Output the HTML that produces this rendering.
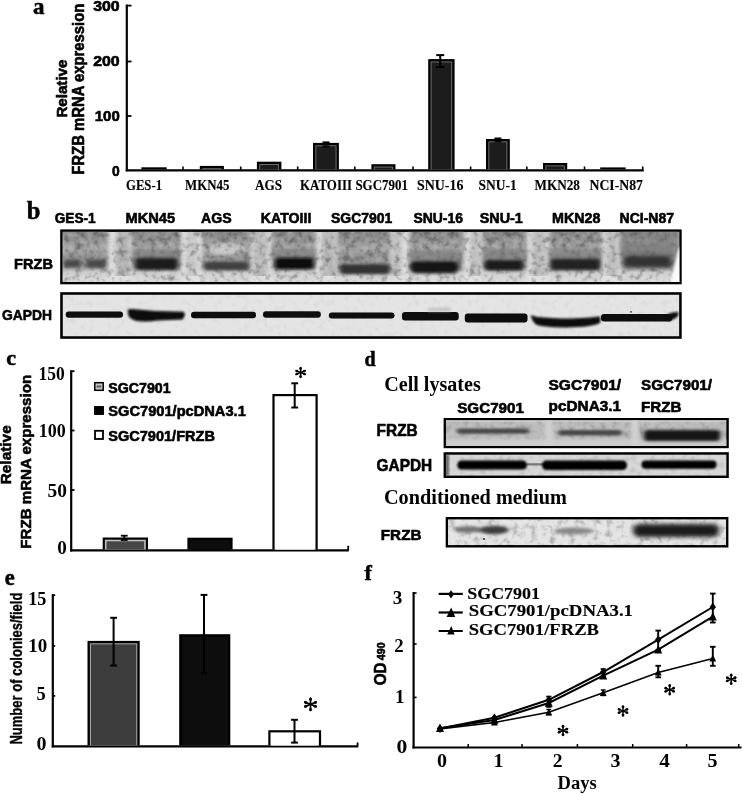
<!DOCTYPE html><html><head><meta charset="utf-8"><style>html,body{margin:0;padding:0;background:#fff;}svg{display:block;}</style></head><body>
<svg width="742" height="794" viewBox="0 0 742 794">
<defs>
<filter id="noise" x="0" y="0" width="100%" height="100%"><feTurbulence type="fractalNoise" baseFrequency="0.16" numOctaves="3" seed="3"/><feColorMatrix type="matrix" values="0 0 0 0 0  0 0 0 0 0  0 0 0 0 0  0 0 0 1.8 -0.9" /></filter>
<filter id="noiseL" x="0" y="0" width="100%" height="100%"><feTurbulence type="fractalNoise" baseFrequency="0.16" numOctaves="3" seed="3"/><feColorMatrix type="matrix" values="0 0 0 0 1  0 0 0 0 1  0 0 0 0 1  0 0 0 -1.8 0.9" /></filter>
<filter id="noise2" x="0" y="0" width="100%" height="100%"><feTurbulence type="fractalNoise" baseFrequency="0.08 0.25" numOctaves="2" seed="7"/><feColorMatrix type="matrix" values="0 0 0 0 0  0 0 0 0 0  0 0 0 0 0  0 0 0 -1.4 0.85" /></filter>
<filter id="b1" x="-20%" y="-100%" width="140%" height="300%"><feGaussianBlur stdDeviation="2.2 1.6"/></filter>
<filter id="b2" x="-20%" y="-100%" width="140%" height="300%"><feGaussianBlur stdDeviation="1.2 0.9"/></filter>
<filter id="b3" x="-20%" y="-100%" width="140%" height="300%"><feGaussianBlur stdDeviation="3 3"/></filter>
<filter id="soft"><feGaussianBlur stdDeviation="0.35"/></filter>
<filter id="fsl" x="-30%" y="-10%" width="160%" height="120%"><feGaussianBlur stdDeviation="2.2 0.5"/></filter>
<filter id="fsg" x="-10%" y="-50%" width="120%" height="200%"><feGaussianBlur stdDeviation="0.8"/></filter>
<filter id="f2_1p6" x="-30%" y="-100%" width="160%" height="300%"><feGaussianBlur stdDeviation="2 1.6"/></filter><filter id="f2_1p8" x="-30%" y="-100%" width="160%" height="300%"><feGaussianBlur stdDeviation="2 1.8"/></filter><filter id="f2_1p7" x="-30%" y="-100%" width="160%" height="300%"><feGaussianBlur stdDeviation="2 1.7"/></filter><filter id="f2p2_1p9" x="-30%" y="-100%" width="160%" height="300%"><feGaussianBlur stdDeviation="2.2 1.9"/></filter><filter id="f0p7_0p6" x="-30%" y="-100%" width="160%" height="300%"><feGaussianBlur stdDeviation="0.7 0.6"/></filter><filter id="f2_1p2" x="-30%" y="-100%" width="160%" height="300%"><feGaussianBlur stdDeviation="2 1.2"/></filter><filter id="f2_1p5" x="-30%" y="-100%" width="160%" height="300%"><feGaussianBlur stdDeviation="2 1.5"/></filter><filter id="f1_0p6" x="-30%" y="-100%" width="160%" height="300%"><feGaussianBlur stdDeviation="1 0.6"/></filter><filter id="f0p9_0p8" x="-30%" y="-100%" width="160%" height="300%"><feGaussianBlur stdDeviation="0.9 0.8"/></filter><filter id="f2p4_2" x="-30%" y="-100%" width="160%" height="300%"><feGaussianBlur stdDeviation="2.4 2"/></filter>
</defs>
<rect width="742" height="794" fill="#fff"/>
<g filter="url(#soft)">
<text x="33.0" y="13.6" font-family='"Liberation Serif", serif' font-weight="bold" font-size="23" text-anchor="start" fill="#000"  stroke="#000" stroke-width="0.5" stroke-linejoin="round">a</text>
<text transform="translate(66.6,88.6) rotate(-90)" x="0" y="0" font-family='"Liberation Sans", sans-serif' font-weight="bold" font-size="15.5" text-anchor="middle" fill="#000" textLength="58" lengthAdjust="spacingAndGlyphs"  stroke="#000" stroke-width="0.6" stroke-linejoin="round">Relative</text>
<text transform="translate(83.5,89.2) rotate(-90)" x="0" y="0" font-family='"Liberation Sans", sans-serif' font-weight="bold" font-size="16" text-anchor="middle" fill="#000" textLength="171" lengthAdjust="spacingAndGlyphs"  stroke="#000" stroke-width="0.6" stroke-linejoin="round">FRZB mRNA expression</text>
<text x="93.2" y="10.6" font-family='"Liberation Sans", sans-serif' font-weight="bold" font-size="14" text-anchor="start" fill="#000" textLength="26.5" lengthAdjust="spacingAndGlyphs"  stroke="#000" stroke-width="0.6" stroke-linejoin="round">300</text>
<text x="93.2" y="66.0" font-family='"Liberation Sans", sans-serif' font-weight="bold" font-size="14" text-anchor="start" fill="#000" textLength="26.5" lengthAdjust="spacingAndGlyphs"  stroke="#000" stroke-width="0.6" stroke-linejoin="round">200</text>
<text x="94.8" y="121.0" font-family='"Liberation Sans", sans-serif' font-weight="bold" font-size="14" text-anchor="start" fill="#000" textLength="24.9" lengthAdjust="spacingAndGlyphs"  stroke="#000" stroke-width="0.6" stroke-linejoin="round">100</text>
<text x="112.0" y="176.2" font-family='"Liberation Sans", sans-serif' font-weight="bold" font-size="14" text-anchor="start" fill="#000" textLength="7.7" lengthAdjust="spacingAndGlyphs"  stroke="#000" stroke-width="0.6" stroke-linejoin="round">0</text>
<line x1="126.8" y1="4.6" x2="126.8" y2="171.3" stroke="#000" stroke-width="2.2" stroke-linecap="butt"/>
<line x1="126" y1="5.6" x2="131.5" y2="5.6" stroke="#000" stroke-width="1.8" stroke-linecap="butt"/>
<line x1="126" y1="61.5" x2="131.5" y2="61.5" stroke="#000" stroke-width="1.8" stroke-linecap="butt"/>
<line x1="126" y1="116.0" x2="131.5" y2="116.0" stroke="#000" stroke-width="1.8" stroke-linecap="butt"/>
<line x1="125.8" y1="170.3" x2="643.8" y2="170.3" stroke="#000" stroke-width="2.2" stroke-linecap="butt"/>
<line x1="183" y1="166.5" x2="183" y2="170" stroke="#000" stroke-width="1.6" stroke-linecap="butt"/>
<line x1="240.7" y1="166.5" x2="240.7" y2="170" stroke="#000" stroke-width="1.6" stroke-linecap="butt"/>
<line x1="297.7" y1="166.5" x2="297.7" y2="170" stroke="#000" stroke-width="1.6" stroke-linecap="butt"/>
<line x1="354.8" y1="166.5" x2="354.8" y2="170" stroke="#000" stroke-width="1.6" stroke-linecap="butt"/>
<line x1="413" y1="166.5" x2="413" y2="170" stroke="#000" stroke-width="1.6" stroke-linecap="butt"/>
<line x1="470.6" y1="166.5" x2="470.6" y2="170" stroke="#000" stroke-width="1.6" stroke-linecap="butt"/>
<line x1="526.8" y1="166.5" x2="526.8" y2="170" stroke="#000" stroke-width="1.6" stroke-linecap="butt"/>
<line x1="584.5" y1="166.5" x2="584.5" y2="170" stroke="#000" stroke-width="1.6" stroke-linecap="butt"/>
<line x1="642.7" y1="166.5" x2="642.7" y2="170" stroke="#000" stroke-width="1.6" stroke-linecap="butt"/>
<rect x="141.4" y="167.3" width="25.299999999999983" height="2.0999999999999943" fill="#000" stroke="none" stroke-width="0" />
<rect x="143.8" y="169.70000000000002" width="20.499999999999982" height="-0.3000000000000056" fill="#7a7a7a" stroke="none" stroke-width="0" />
<rect x="144.70000000000002" y="170.60000000000002" width="18.69999999999998" height="-1.2000000000000055" fill="#1b1b1b" stroke="none" stroke-width="0" />
<rect x="199.8" y="165.9" width="24.099999999999994" height="3.5" fill="#000" stroke="none" stroke-width="0" />
<rect x="202.20000000000002" y="168.3" width="19.299999999999994" height="1.1" fill="#7a7a7a" stroke="none" stroke-width="0" />
<rect x="203.10000000000002" y="169.20000000000002" width="17.499999999999993" height="0.20000000000000007" fill="#1b1b1b" stroke="none" stroke-width="0" />
<rect x="256.9" y="161.7" width="24.5" height="7.700000000000017" fill="#000" stroke="none" stroke-width="0" />
<rect x="259.29999999999995" y="164.1" width="19.7" height="5.300000000000017" fill="#7a7a7a" stroke="none" stroke-width="0" />
<rect x="260.19999999999993" y="165.0" width="17.9" height="4.400000000000016" fill="#1b1b1b" stroke="none" stroke-width="0" />
<rect x="313" y="142.9" width="25.899999999999977" height="26.5" fill="#000" stroke="none" stroke-width="0" />
<rect x="315.4" y="145.3" width="21.099999999999977" height="24.1" fill="#7a7a7a" stroke="none" stroke-width="0" />
<rect x="316.29999999999995" y="146.20000000000002" width="19.299999999999976" height="23.200000000000003" fill="#1b1b1b" stroke="none" stroke-width="0" />
<rect x="371.4" y="164.2" width="24.100000000000023" height="5.200000000000017" fill="#000" stroke="none" stroke-width="0" />
<rect x="373.79999999999995" y="166.6" width="19.300000000000022" height="2.800000000000017" fill="#7a7a7a" stroke="none" stroke-width="0" />
<rect x="374.69999999999993" y="167.5" width="17.50000000000002" height="1.9000000000000172" fill="#1b1b1b" stroke="none" stroke-width="0" />
<rect x="428.2" y="59.1" width="26.400000000000034" height="110.30000000000001" fill="#000" stroke="none" stroke-width="0" />
<rect x="430.59999999999997" y="61.5" width="21.600000000000033" height="107.9" fill="#7a7a7a" stroke="none" stroke-width="0" />
<rect x="431.49999999999994" y="62.4" width="19.800000000000033" height="107.0" fill="#1b1b1b" stroke="none" stroke-width="0" />
<rect x="486" y="139.0" width="23.80000000000001" height="30.400000000000006" fill="#000" stroke="none" stroke-width="0" />
<rect x="488.4" y="141.4" width="19.00000000000001" height="28.000000000000007" fill="#7a7a7a" stroke="none" stroke-width="0" />
<rect x="489.29999999999995" y="142.3" width="17.20000000000001" height="27.10000000000001" fill="#1b1b1b" stroke="none" stroke-width="0" />
<rect x="543" y="163.0" width="24.200000000000045" height="6.400000000000006" fill="#000" stroke="none" stroke-width="0" />
<rect x="545.4" y="165.4" width="19.400000000000045" height="4.000000000000005" fill="#7a7a7a" stroke="none" stroke-width="0" />
<rect x="546.3" y="166.3" width="17.600000000000044" height="3.1000000000000054" fill="#1b1b1b" stroke="none" stroke-width="0" />
<rect x="600.2" y="167.4" width="25.5" height="2.0" fill="#000" stroke="none" stroke-width="0" />
<rect x="602.6" y="169.8" width="20.7" height="-0.3999999999999999" fill="#7a7a7a" stroke="none" stroke-width="0" />
<rect x="603.5" y="170.70000000000002" width="18.9" height="-1.2999999999999998" fill="#1b1b1b" stroke="none" stroke-width="0" />
<line x1="440.2" y1="55.1" x2="440.2" y2="67.0" stroke="#000" stroke-width="2" stroke-linecap="butt"/>
<line x1="436.2" y1="55.1" x2="444.2" y2="55.1" stroke="#000" stroke-width="2" stroke-linecap="butt"/>
<line x1="436.2" y1="67.0" x2="444.2" y2="67.0" stroke="#000" stroke-width="2" stroke-linecap="butt"/>
<line x1="326" y1="142.3" x2="326" y2="146.5" stroke="#000" stroke-width="1.8" stroke-linecap="butt"/>
<line x1="322.5" y1="142.3" x2="329.5" y2="142.3" stroke="#000" stroke-width="1.8" stroke-linecap="butt"/>
<line x1="322.5" y1="146.5" x2="329.5" y2="146.5" stroke="#000" stroke-width="1.8" stroke-linecap="butt"/>
<line x1="497.9" y1="138.4" x2="497.9" y2="141.5" stroke="#000" stroke-width="1.8" stroke-linecap="butt"/>
<line x1="494.4" y1="138.4" x2="501.4" y2="138.4" stroke="#000" stroke-width="1.8" stroke-linecap="butt"/>
<line x1="494.4" y1="141.5" x2="501.4" y2="141.5" stroke="#000" stroke-width="1.8" stroke-linecap="butt"/>
<text x="126" y="189.5" font-family='"Liberation Serif", serif' font-weight="bold" font-size="14.5" text-anchor="start" fill="#000" textLength="36" lengthAdjust="spacingAndGlyphs"  stroke="#000" stroke-width="0.15" stroke-linejoin="round">GES-1</text>
<text x="185.1" y="189.5" font-family='"Liberation Serif", serif' font-weight="bold" font-size="14.5" text-anchor="start" fill="#000" textLength="44.3" lengthAdjust="spacingAndGlyphs"  stroke="#000" stroke-width="0.15" stroke-linejoin="round">MKN45</text>
<text x="255" y="189.5" font-family='"Liberation Serif", serif' font-weight="bold" font-size="14.5" text-anchor="start" fill="#000" textLength="27.1" lengthAdjust="spacingAndGlyphs"  stroke="#000" stroke-width="0.15" stroke-linejoin="round">AGS</text>
<text x="300" y="189.5" font-family='"Liberation Serif", serif' font-weight="bold" font-size="14.5" text-anchor="start" fill="#000" textLength="52" lengthAdjust="spacingAndGlyphs"  stroke="#000" stroke-width="0.15" stroke-linejoin="round">KATOIII</text>
<text x="355.4" y="189.5" font-family='"Liberation Serif", serif' font-weight="bold" font-size="14.5" text-anchor="start" fill="#000" textLength="52.7" lengthAdjust="spacingAndGlyphs"  stroke="#000" stroke-width="0.15" stroke-linejoin="round">SGC7901</text>
<text x="417.1" y="189.5" font-family='"Liberation Serif", serif' font-weight="bold" font-size="14.5" text-anchor="start" fill="#000" textLength="46.3" lengthAdjust="spacingAndGlyphs"  stroke="#000" stroke-width="0.15" stroke-linejoin="round">SNU-16</text>
<text x="478.6" y="189.5" font-family='"Liberation Serif", serif' font-weight="bold" font-size="14.5" text-anchor="start" fill="#000" textLength="38.1" lengthAdjust="spacingAndGlyphs"  stroke="#000" stroke-width="0.15" stroke-linejoin="round">SNU-1</text>
<text x="534.5" y="189.5" font-family='"Liberation Serif", serif' font-weight="bold" font-size="14.5" text-anchor="start" fill="#000" textLength="45.3" lengthAdjust="spacingAndGlyphs"  stroke="#000" stroke-width="0.15" stroke-linejoin="round">MKN28</text>
<text x="589.5" y="189.5" font-family='"Liberation Serif", serif' font-weight="bold" font-size="14.5" text-anchor="start" fill="#000" textLength="53.4" lengthAdjust="spacingAndGlyphs"  stroke="#000" stroke-width="0.15" stroke-linejoin="round">NCI-N87</text>
<text x="26.8" y="218.6" font-family='"Liberation Serif", serif' font-weight="bold" font-size="24.5" text-anchor="start" fill="#000"  stroke="#000" stroke-width="0.5" stroke-linejoin="round">b</text>
<text x="54.7" y="223.4" font-family='"Liberation Sans", sans-serif' font-weight="bold" font-size="15" text-anchor="start" fill="#000" textLength="41.0" lengthAdjust="spacingAndGlyphs"  stroke="#000" stroke-width="0.6" stroke-linejoin="round">GES-1</text>
<text x="125.5" y="223.4" font-family='"Liberation Sans", sans-serif' font-weight="bold" font-size="15" text-anchor="start" fill="#000" textLength="49.6" lengthAdjust="spacingAndGlyphs"  stroke="#000" stroke-width="0.6" stroke-linejoin="round">MKN45</text>
<text x="201" y="223.4" font-family='"Liberation Sans", sans-serif' font-weight="bold" font-size="15" text-anchor="start" fill="#000" textLength="30.7" lengthAdjust="spacingAndGlyphs"  stroke="#000" stroke-width="0.6" stroke-linejoin="round">AGS</text>
<text x="260.8" y="223.4" font-family='"Liberation Sans", sans-serif' font-weight="bold" font-size="15" text-anchor="start" fill="#000" textLength="50.6" lengthAdjust="spacingAndGlyphs"  stroke="#000" stroke-width="0.6" stroke-linejoin="round">KATOIII</text>
<text x="331" y="223.4" font-family='"Liberation Sans", sans-serif' font-weight="bold" font-size="15" text-anchor="start" fill="#000" textLength="61.3" lengthAdjust="spacingAndGlyphs"  stroke="#000" stroke-width="0.6" stroke-linejoin="round">SGC7901</text>
<text x="413.4" y="223.4" font-family='"Liberation Sans", sans-serif' font-weight="bold" font-size="15" text-anchor="start" fill="#000" textLength="49.6" lengthAdjust="spacingAndGlyphs"  stroke="#000" stroke-width="0.6" stroke-linejoin="round">SNU-16</text>
<text x="479.7" y="223.4" font-family='"Liberation Sans", sans-serif' font-weight="bold" font-size="15" text-anchor="start" fill="#000" textLength="43.1" lengthAdjust="spacingAndGlyphs"  stroke="#000" stroke-width="0.6" stroke-linejoin="round">SNU-1</text>
<text x="552" y="223.4" font-family='"Liberation Sans", sans-serif' font-weight="bold" font-size="15" text-anchor="start" fill="#000" textLength="48.5" lengthAdjust="spacingAndGlyphs"  stroke="#000" stroke-width="0.6" stroke-linejoin="round">MKN28</text>
<text x="619.5" y="223.4" font-family='"Liberation Sans", sans-serif' font-weight="bold" font-size="15" text-anchor="start" fill="#000" textLength="54.6" lengthAdjust="spacingAndGlyphs"  stroke="#000" stroke-width="0.6" stroke-linejoin="round">NCI-N87</text>
<text x="14.1" y="268.8" font-family='"Liberation Sans", sans-serif' font-weight="bold" font-size="15" text-anchor="start" fill="#000" textLength="38.8" lengthAdjust="spacingAndGlyphs"  stroke="#000" stroke-width="0.6" stroke-linejoin="round">FRZB</text>
<text x="1.9" y="320.4" font-family='"Liberation Sans", sans-serif' font-weight="bold" font-size="15" text-anchor="start" fill="#000" textLength="50" lengthAdjust="spacingAndGlyphs"  stroke="#000" stroke-width="0.6" stroke-linejoin="round">GAPDH</text>
<rect x="60.2" y="229.4" width="621.5" height="54.900000000000006" fill="#000" stroke="none" stroke-width="0" />
<svg x="62.5" y="231.70000000000002" width="616.9000000000001" height="50.29999999999998" viewBox="62.5 231.70000000000002 616.9000000000001 50.29999999999998" overflow="hidden">
<defs><linearGradient id="lgl" x1="0" y1="0" x2="0" y2="1"><stop offset="0" stop-color="#848484"/><stop offset="0.2" stop-color="#8e8e8e"/><stop offset="0.38" stop-color="#a2a2a2"/><stop offset="0.52" stop-color="#929292"/><stop offset="0.72" stop-color="#959595"/><stop offset="0.82" stop-color="#cacaca"/><stop offset="1" stop-color="#dadada"/></linearGradient></defs>
<rect x="62.5" y="231.70000000000002" width="616.9000000000001" height="50.29999999999998" fill="#dedede" stroke="none" stroke-width="0" />
<rect x="62" y="227.70000000000002" width="46" height="54.29999999999998" fill="url(#lgl)" filter="url(#fsl)"/>
<rect x="131" y="227.70000000000002" width="50" height="54.29999999999998" fill="url(#lgl)" filter="url(#fsl)"/>
<rect x="202" y="227.70000000000002" width="49" height="54.29999999999998" fill="url(#lgl)" filter="url(#fsl)"/>
<rect x="272" y="227.70000000000002" width="44" height="54.29999999999998" fill="url(#lgl)" filter="url(#fsl)"/>
<rect x="337" y="227.70000000000002" width="54" height="54.29999999999998" fill="url(#lgl)" filter="url(#fsl)"/>
<rect x="409" y="227.70000000000002" width="55" height="54.29999999999998" fill="url(#lgl)" filter="url(#fsl)"/>
<rect x="482" y="227.70000000000002" width="45" height="54.29999999999998" fill="url(#lgl)" filter="url(#fsl)"/>
<rect x="549" y="227.70000000000002" width="53" height="54.29999999999998" fill="url(#lgl)" filter="url(#fsl)"/>
<rect x="620" y="227.70000000000002" width="60" height="54.29999999999998" fill="url(#lgl)" filter="url(#fsl)"/>
<rect x="116" y="231.70000000000002" width="14" height="44.29999999999998" fill="#b0b0b0" filter="url(#fsl)"/>
<rect x="253" y="231.70000000000002" width="15" height="44.29999999999998" fill="#b8b8b8" filter="url(#fsl)"/>
<rect x="322" y="231.70000000000002" width="14" height="44.29999999999998" fill="#b4b4b4" filter="url(#fsl)"/>
<rect x="392" y="231.70000000000002" width="10" height="44.29999999999998" fill="#bcbcbc" filter="url(#fsl)"/>
<rect x="470" y="231.70000000000002" width="11" height="44.29999999999998" fill="#bdbdbd" filter="url(#fsl)"/>
<rect x="532" y="231.70000000000002" width="14" height="44.29999999999998" fill="#bababa" filter="url(#fsl)"/>
<rect x="606" y="231.70000000000002" width="12" height="44.29999999999998" fill="#bbbbbb" filter="url(#fsl)"/>
<rect x="186" y="231.70000000000002" width="12" height="44.29999999999998" fill="#c4c4c4" filter="url(#fsl)"/>
<ellipse cx="226" cy="249" rx="19" ry="6" fill="#c4c4c4" filter="url(#b1)"/>
<rect x="62.5" y="231.70000000000002" width="616.9000000000001" height="50.29999999999998" fill="#000" filter="url(#noise)" opacity="0.45"/>
<rect x="62.5" y="231.70000000000002" width="616.9000000000001" height="50.29999999999998" fill="#fff" filter="url(#noiseL)" opacity="0.3"/>
<rect x="133" y="249" width="47" height="12" fill="#7a7a7a" opacity="0.55" filter="url(#b1)"/>
<rect x="272" y="248" width="44" height="12" fill="#7a7a7a" opacity="0.55" filter="url(#b1)"/>
<rect x="408" y="250" width="53" height="12" fill="#7a7a7a" opacity="0.55" filter="url(#b1)"/>
<rect x="482" y="248" width="44" height="12" fill="#7a7a7a" opacity="0.55" filter="url(#b1)"/>
<rect x="548" y="248" width="54" height="12" fill="#7a7a7a" opacity="0.55" filter="url(#b1)"/>
<rect x="621" y="244" width="53" height="12" fill="#7a7a7a" opacity="0.55" filter="url(#b1)"/>
<rect x="64" y="259.6" width="17" height="8" rx="3" fill="#4a4a4a" opacity="1" filter="url(#f2_1p6)"/>
<rect x="86" y="259.8" width="20" height="8" rx="3" fill="#4a4a4a" opacity="1" filter="url(#f2_1p6)"/>
<rect x="135.5" y="258.0" width="42.0" height="12" rx="3" fill="#1c1c1c" opacity="1" filter="url(#f2_1p8)"/>
<rect x="204" y="261.75" width="45" height="8.5" rx="3" fill="#404040" opacity="1" filter="url(#f2_1p6)"/>
<rect x="275" y="257.75" width="38.80000000000001" height="11.5" rx="3" fill="#0c0c0c" opacity="1" filter="url(#f2_1p7)"/>
<rect x="339.6" y="264.2" width="50.39999999999998" height="10" rx="3" fill="#303030" opacity="1" filter="url(#f2_1p7)"/>
<rect x="410.2" y="261.2" width="48.5" height="12" rx="5" fill="#161616" opacity="1" filter="url(#f2_1p7)"/>
<rect x="484.6" y="259.95" width="38.799999999999955" height="10.5" rx="3" fill="#1a1a1a" opacity="1" filter="url(#f2_1p7)"/>
<rect x="550.4" y="258.75" width="49.60000000000002" height="11.5" rx="3" fill="#202020" opacity="1" filter="url(#f2_1p7)"/>
<rect x="623.7" y="255.5" width="47.299999999999955" height="12" rx="3" fill="#333" opacity="1" filter="url(#f2p2_1p9)"/>
<rect x="621" y="231.70000000000002" width="58" height="22" fill="#707070" opacity="0.35" filter="url(#b1)"/>
<polygon points="679.6,246 681.4000000000001,246 681.4000000000001,283.0 670,283.0" fill="#fafafa" filter="url(#fsg)"/>
</svg>
<rect x="60.2" y="292.2" width="621.5" height="46.60000000000002" fill="#000" stroke="none" stroke-width="0" />
<svg x="62.5" y="294.5" width="616.9000000000001" height="42.0" viewBox="62.5 294.5 616.9000000000001 42.0" overflow="hidden">
<rect x="62.5" y="294.5" width="616.9000000000001" height="42.0" fill="#e4e4e4" stroke="none" stroke-width="0" />
<rect x="62.5" y="294.5" width="616.9000000000001" height="42.0" fill="#000" filter="url(#noise)" opacity="0.06"/>
<rect x="62.5" y="294.5" width="616.9000000000001" height="42.0" fill="#fff" filter="url(#noiseL)" opacity="0.06"/>
<rect x="65.7" y="311.6" width="57.3" height="6.199999999999989" rx="3" fill="#0a0a0a" opacity="1" filter="url(#f0p7_0p6)"/>
<rect x="191" y="311.8" width="65" height="6.399999999999977" rx="3" fill="#0a0a0a" opacity="1" filter="url(#f0p7_0p6)"/>
<rect x="263" y="311.2" width="57.80000000000001" height="6.600000000000023" rx="3" fill="#0a0a0a" opacity="1" filter="url(#f0p7_0p6)"/>
<rect x="328.8" y="312.6" width="65.69999999999999" height="5.899999999999977" rx="3" fill="#0a0a0a" opacity="1" filter="url(#f0p7_0p6)"/>
<rect x="402" y="312.0" width="56.69999999999999" height="8.399999999999977" rx="3" fill="#0a0a0a" opacity="1" filter="url(#f0p7_0p6)"/>
<rect x="464.8" y="313.4" width="62.69999999999999" height="9.0" rx="3" fill="#0a0a0a" opacity="1" filter="url(#f0p7_0p6)"/>
<rect x="601" y="314.0" width="71" height="7.600000000000023" rx="3" fill="#0a0a0a" opacity="1" filter="url(#f0p7_0p6)"/>
<path d="M127.6,310.5 Q128,308.8 135,309.2 L155,311 L183,311.8 Q185.5,312.5 184.5,316 L182.5,319.5 Q170,320.2 157,320.5 Q150,321.8 140,321.3 Q131,320.5 128.5,316 Z" fill="#080808" filter="url(#fsg)"/>
<path d="M530.8,315.5 Q533,315 537,317 L560,318.6 Q585,318.6 598,316.6 L600.5,317 L600,323 Q592,327.2 566,327.4 Q543,327.3 536,324.5 Q532,321 530.8,315.5 Z" fill="#080808" filter="url(#fsg)"/>
<path d="M668,314 Q674,311.5 678.5,312 L678,316 Q674,320 668,321 Z" fill="#0a0a0a" filter="url(#fsg)"/>
<circle cx="631" cy="311.8" r="0.9" fill="#333"/>
<rect x="428" y="307.5" width="23" height="4" fill="#c8c8c8" filter="url(#b2)"/>
</svg>
<text x="6.3" y="364.6" font-family='"Liberation Serif", serif' font-weight="bold" font-size="22" text-anchor="start" fill="#000"  stroke="#000" stroke-width="0.5" stroke-linejoin="round">c</text>
<text transform="translate(11.0,454.8) rotate(-90)" x="0" y="0" font-family='"Liberation Sans", sans-serif' font-weight="bold" font-size="14.5" text-anchor="middle" fill="#000" textLength="59" lengthAdjust="spacingAndGlyphs"  stroke="#000" stroke-width="0.55" stroke-linejoin="round">Relative</text>
<text transform="translate(30.8,461.8) rotate(-90)" x="0" y="0" font-family='"Liberation Sans", sans-serif' font-weight="bold" font-size="15" text-anchor="middle" fill="#000" textLength="173.8" lengthAdjust="spacingAndGlyphs"  stroke="#000" stroke-width="0.55" stroke-linejoin="round">FRZB mRNA expression</text>
<text x="38.6" y="380.0" font-family='"Liberation Serif", serif' font-weight="bold" font-size="19.5" text-anchor="start" fill="#000" textLength="26.2" lengthAdjust="spacingAndGlyphs" >150</text>
<text x="38.8" y="437.4" font-family='"Liberation Serif", serif' font-weight="bold" font-size="19.5" text-anchor="start" fill="#000" textLength="27.0" lengthAdjust="spacingAndGlyphs" >100</text>
<text x="47.6" y="497.2" font-family='"Liberation Serif", serif' font-weight="bold" font-size="19.5" text-anchor="start" fill="#000" textLength="19.4" lengthAdjust="spacingAndGlyphs" >50</text>
<text x="57.2" y="553.8" font-family='"Liberation Serif", serif' font-weight="bold" font-size="19.5" text-anchor="start" fill="#000" textLength="9.6" lengthAdjust="spacingAndGlyphs" >0</text>
<line x1="71.2" y1="370.4" x2="71.2" y2="551.5" stroke="#000" stroke-width="2.2" stroke-linecap="butt"/>
<line x1="70.5" y1="371.2" x2="74.5" y2="371.2" stroke="#000" stroke-width="1.8" stroke-linecap="butt"/>
<line x1="70.5" y1="430.5" x2="74.5" y2="430.5" stroke="#000" stroke-width="1.8" stroke-linecap="butt"/>
<line x1="70.5" y1="490.0" x2="74.5" y2="490.0" stroke="#000" stroke-width="1.8" stroke-linecap="butt"/>
<line x1="70.1" y1="550.4" x2="348.8" y2="550.4" stroke="#000" stroke-width="2.2" stroke-linecap="butt"/>
<line x1="348.2" y1="545.8" x2="348.2" y2="550.4" stroke="#000" stroke-width="1.8" stroke-linecap="butt"/>
<rect x="102.7" y="537.5" width="45.3" height="12.0" fill="#000" stroke="none" stroke-width="0" />
<rect x="104.9" y="539.7" width="40.9" height="9.8" fill="#c0c0c0" stroke="none" stroke-width="0" />
<rect x="106.5" y="541.3000000000001" width="37.699999999999996" height="8.200000000000001" fill="#474747" stroke="none" stroke-width="0" />
<rect x="187.4" y="537.7" width="45.19999999999999" height="11.799999999999955" fill="#000" stroke="none" stroke-width="0" />
<rect x="189.6" y="539.9000000000001" width="40.79999999999999" height="9.599999999999955" fill="#080808" stroke="none" stroke-width="0" />
<rect x="190.6" y="540.9000000000001" width="38.79999999999999" height="8.599999999999955" fill="#080808" stroke="none" stroke-width="0" />
<rect x="272.4" y="394" width="45.30000000000001" height="155.5" fill="#000" stroke="none" stroke-width="0" />
<rect x="274.59999999999997" y="396.2" width="40.90000000000001" height="153.3" fill="#fff" stroke="none" stroke-width="0" />
<rect x="275.59999999999997" y="397.2" width="38.90000000000001" height="152.3" fill="#fff" stroke="none" stroke-width="0" />
<line x1="124.3" y1="535.7" x2="124.3" y2="540" stroke="#000" stroke-width="1.8" stroke-linecap="butt"/>
<line x1="120.89999999999999" y1="535.7" x2="127.7" y2="535.7" stroke="#000" stroke-width="1.8" stroke-linecap="butt"/>
<line x1="120.89999999999999" y1="540" x2="127.7" y2="540" stroke="#000" stroke-width="1.8" stroke-linecap="butt"/>
<line x1="294.7" y1="383.3" x2="294.7" y2="407.5" stroke="#000" stroke-width="2" stroke-linecap="butt"/>
<line x1="291.3" y1="383.3" x2="298.09999999999997" y2="383.3" stroke="#000" stroke-width="2" stroke-linecap="butt"/>
<line x1="291.3" y1="407.5" x2="298.09999999999997" y2="407.5" stroke="#000" stroke-width="2" stroke-linecap="butt"/>
<line x1="300.60" y1="367.60" x2="300.60" y2="377.40" stroke="#000" stroke-width="1.6" stroke-linecap="round"/>
<circle cx="300.60" cy="376.52" r="1.35" fill="#000"/>
<circle cx="300.60" cy="368.48" r="1.35" fill="#000"/>
<line x1="296.06" y1="370.66" x2="305.14" y2="374.34" stroke="#000" stroke-width="1.6" stroke-linecap="round"/>
<circle cx="304.33" cy="374.01" r="1.35" fill="#000"/>
<circle cx="296.87" cy="370.99" r="1.35" fill="#000"/>
<line x1="296.06" y1="374.34" x2="305.14" y2="370.66" stroke="#000" stroke-width="1.6" stroke-linecap="round"/>
<circle cx="304.33" cy="370.99" r="1.35" fill="#000"/>
<circle cx="296.87" cy="374.01" r="1.35" fill="#000"/>
<rect x="94.8" y="382.7" width="8.4" height="7.6" fill="#c8c8c8" stroke="#000" stroke-width="1.5" />
<rect x="96.6" y="385.4" width="4.8" height="2.2" fill="#666" stroke="none" stroke-width="0" />
<rect x="94.8" y="406.8" width="8.4" height="7.4" fill="#000" stroke="#000" stroke-width="1.5" />
<rect x="95.0" y="430.8" width="8.0" height="8.2" fill="#fff" stroke="#000" stroke-width="1.8" />
<text x="108.3" y="392.6" font-family='"Liberation Sans", sans-serif' font-weight="bold" font-size="14.5" text-anchor="start" fill="#000" textLength="62.3" lengthAdjust="spacingAndGlyphs"  stroke="#000" stroke-width="0.6" stroke-linejoin="round">SGC7901</text>
<text x="108.3" y="416.4" font-family='"Liberation Sans", sans-serif' font-weight="bold" font-size="14.5" text-anchor="start" fill="#000" textLength="137.5" lengthAdjust="spacingAndGlyphs"  stroke="#000" stroke-width="0.6" stroke-linejoin="round">SGC7901/pcDNA3.1</text>
<text x="108.3" y="441.0" font-family='"Liberation Sans", sans-serif' font-weight="bold" font-size="14.5" text-anchor="start" fill="#000" textLength="106.6" lengthAdjust="spacingAndGlyphs"  stroke="#000" stroke-width="0.6" stroke-linejoin="round">SGC7901/FRZB</text>
<text x="364.5" y="365.8" font-family='"Liberation Serif", serif' font-weight="bold" font-size="20" text-anchor="start" fill="#000"  stroke="#000" stroke-width="0.5" stroke-linejoin="round">d</text>
<text x="384.2" y="391.2" font-family='"Liberation Serif", serif' font-weight="bold" font-size="20" text-anchor="start" fill="#000" textLength="96.6" lengthAdjust="spacingAndGlyphs" >Cell lysates</text>
<text x="457.2" y="412.9" font-family='"Liberation Sans", sans-serif' font-weight="bold" font-size="15" text-anchor="start" fill="#000" textLength="66.8" lengthAdjust="spacingAndGlyphs"  stroke="#000" stroke-width="0.6" stroke-linejoin="round">SGC7901</text>
<text x="548.5" y="390.0" font-family='"Liberation Sans", sans-serif' font-weight="bold" font-size="15" text-anchor="start" fill="#000" textLength="72.6" lengthAdjust="spacingAndGlyphs"  stroke="#000" stroke-width="0.6" stroke-linejoin="round">SGC7901/</text>
<text x="548.5" y="411.3" font-family='"Liberation Sans", sans-serif' font-weight="bold" font-size="15" text-anchor="start" fill="#000" textLength="72.6" lengthAdjust="spacingAndGlyphs"  stroke="#000" stroke-width="0.6" stroke-linejoin="round">pcDNA3.1</text>
<text x="641.1" y="390.0" font-family='"Liberation Sans", sans-serif' font-weight="bold" font-size="15" text-anchor="start" fill="#000" textLength="70.9" lengthAdjust="spacingAndGlyphs"  stroke="#000" stroke-width="0.6" stroke-linejoin="round">SGC7901/</text>
<text x="641.1" y="412.3" font-family='"Liberation Sans", sans-serif' font-weight="bold" font-size="15" text-anchor="start" fill="#000" textLength="40.5" lengthAdjust="spacingAndGlyphs"  stroke="#000" stroke-width="0.6" stroke-linejoin="round">FRZB</text>
<text x="376.6" y="436.0" font-family='"Liberation Sans", sans-serif' font-weight="bold" font-size="16" text-anchor="start" fill="#000" textLength="41.1" lengthAdjust="spacingAndGlyphs"  stroke="#000" stroke-width="0.6" stroke-linejoin="round">FRZB</text>
<text x="376.5" y="471.0" font-family='"Liberation Sans", sans-serif' font-weight="bold" font-size="16.5" text-anchor="start" fill="#000" textLength="55.7" lengthAdjust="spacingAndGlyphs"  stroke="#000" stroke-width="0.6" stroke-linejoin="round">GAPDH</text>
<text x="384.0" y="503.7" font-family='"Liberation Serif", serif' font-weight="bold" font-size="20" text-anchor="start" fill="#000" textLength="182.8" lengthAdjust="spacingAndGlyphs" >Conditioned medium</text>
<text x="380.8" y="540.3" font-family='"Liberation Sans", sans-serif' font-weight="bold" font-size="15.5" text-anchor="start" fill="#000" textLength="40.7" lengthAdjust="spacingAndGlyphs"  stroke="#000" stroke-width="0.6" stroke-linejoin="round">FRZB</text>
<rect x="443.6" y="418" width="285.19999999999993" height="30.19999999999999" fill="#000" stroke="none" stroke-width="0" />
<svg x="445.8" y="420.2" width="280.7999999999999" height="25.80000000000001" viewBox="445.8 420.2 280.7999999999999 25.80000000000001" overflow="hidden">
<rect x="445.8" y="420.2" width="280.7999999999999" height="25.80000000000001" fill="#bababa" stroke="none" stroke-width="0" />
<rect x="445.8" y="420.2" width="280.7999999999999" height="25.80000000000001" fill="#000" filter="url(#noise)" opacity="0.22"/>
<rect x="445.8" y="420.2" width="280.7999999999999" height="25.80000000000001" fill="#fff" filter="url(#noiseL)" opacity="0.22"/>
<rect x="445.8" y="420.2" width="280.7999999999999" height="1.2" fill="#e0e0e0"/>
<rect x="445.8" y="439" width="280.7999999999999" height="10" fill="#cbcbcb" filter="url(#fsg)"/>
<rect x="545" y="420.2" width="8" height="30" fill="#d0d0d0" filter="url(#fsl)"/>
<rect x="632" y="420.2" width="6" height="30" fill="#d4d4d4" filter="url(#fsl)"/>
<rect x="457" y="428.5" width="72" height="5.2" rx="3" fill="#4a4a4a" opacity="1" filter="url(#f2_1p2)"/>
<rect x="558" y="430.0" width="64" height="5.6" rx="3" fill="#4a4a4a" opacity="1" filter="url(#f2_1p2)"/>
<rect x="644" y="429.9" width="76" height="11" rx="3" fill="#151515" opacity="1" filter="url(#f2_1p5)"/>
</svg>
<rect x="443.6" y="452.2" width="285.19999999999993" height="25.80000000000001" fill="#000" stroke="none" stroke-width="0" />
<svg x="445.8" y="454.4" width="280.7999999999999" height="21.400000000000034" viewBox="445.8 454.4 280.7999999999999 21.400000000000034" overflow="hidden">
<rect x="445.8" y="454.4" width="280.7999999999999" height="21.400000000000034" fill="#d6d6d6" stroke="none" stroke-width="0" />
<rect x="445.8" y="454.4" width="280.7999999999999" height="21.400000000000034" fill="#000" filter="url(#noise)" opacity="0.15"/>
<rect x="445.8" y="454.4" width="280.7999999999999" height="21.400000000000034" fill="#fff" filter="url(#noiseL)" opacity="0.15"/>
<rect x="445.8" y="454.4" width="3" height="21.400000000000034" fill="#555" filter="url(#fsg)"/>
<rect x="526" y="463.2" width="19" height="2.2" rx="1" fill="#777" opacity="1" filter="url(#f1_0p6)"/>
<rect x="457.2" y="460.4" width="69.80000000000001" height="9.2" rx="4.5" fill="#030303" opacity="1" filter="url(#f0p9_0p8)"/>
<rect x="542" y="460.4" width="85" height="9.6" rx="4.5" fill="#030303" opacity="1" filter="url(#f0p9_0p8)"/>
<rect x="641.5" y="460.40000000000003" width="75.0" height="8.4" rx="4" fill="#030303" opacity="1" filter="url(#f0p9_0p8)"/>
</svg>
<rect x="445.7" y="517" width="282.7" height="30.5" fill="#000" stroke="none" stroke-width="0" />
<svg x="447.9" y="519.2" width="278.29999999999995" height="26.09999999999991" viewBox="447.9 519.2 278.29999999999995 26.09999999999991" overflow="hidden">
<rect x="447.9" y="519.2" width="278.29999999999995" height="26.09999999999991" fill="#e2e2e2" stroke="none" stroke-width="0" />
<rect x="447.9" y="519.2" width="278.29999999999995" height="26.09999999999991" fill="#000" filter="url(#noise)" opacity="0.35"/>
<rect x="447.9" y="519.2" width="278.29999999999995" height="26.09999999999991" fill="#fff" filter="url(#noiseL)" opacity="0.35"/>
<ellipse cx="468" cy="529.5" rx="14" ry="3.2" fill="#707070" opacity="1" filter="url(#b1)"/>
<ellipse cx="494" cy="530" rx="15" ry="4.2" fill="#3c3c3c" opacity="1" filter="url(#b1)"/>
<ellipse cx="574" cy="531" rx="20" ry="3.4" fill="#888" opacity="1" filter="url(#b1)"/>
<rect x="633" y="524.0" width="86" height="13" rx="6" fill="#1a1a1a" opacity="1" filter="url(#f2p4_2)"/>
<circle cx="484" cy="539" r="1" fill="#222"/>
</svg>
<text x="4.8" y="584.6" font-family='"Liberation Serif", serif' font-weight="bold" font-size="22.5" text-anchor="start" fill="#000"  stroke="#000" stroke-width="0.5" stroke-linejoin="round">e</text>
<text transform="translate(21.9,668.6) rotate(-90)" x="0" y="0" font-family='"Liberation Sans", sans-serif' font-weight="bold" font-size="16" text-anchor="middle" fill="#000" textLength="152" lengthAdjust="spacingAndGlyphs"  stroke="#000" stroke-width="0.35" stroke-linejoin="round">Number of colonies/field</text>
<text x="28.2" y="605.4" font-family='"Liberation Serif", serif' font-weight="bold" font-size="19.5" text-anchor="start" fill="#000" textLength="18.2" lengthAdjust="spacingAndGlyphs" >15</text>
<text x="28.2" y="651.6" font-family='"Liberation Serif", serif' font-weight="bold" font-size="19.5" text-anchor="start" fill="#000" textLength="19.0" lengthAdjust="spacingAndGlyphs" >10</text>
<text x="36.4" y="699.6" font-family='"Liberation Serif", serif' font-weight="bold" font-size="19.5" text-anchor="start" fill="#000" textLength="9.2" lengthAdjust="spacingAndGlyphs" >5</text>
<text x="36.4" y="750.2" font-family='"Liberation Serif", serif' font-weight="bold" font-size="19.5" text-anchor="start" fill="#000" textLength="10.0" lengthAdjust="spacingAndGlyphs" >0</text>
<line x1="52.8" y1="594.2" x2="52.8" y2="747.4" stroke="#000" stroke-width="2.2" stroke-linecap="butt"/>
<line x1="52" y1="595.2" x2="55.2" y2="595.2" stroke="#000" stroke-width="1.8" stroke-linecap="butt"/>
<line x1="52" y1="645.9" x2="55.2" y2="645.9" stroke="#000" stroke-width="1.8" stroke-linecap="butt"/>
<line x1="52" y1="695.9" x2="55.2" y2="695.9" stroke="#000" stroke-width="1.8" stroke-linecap="butt"/>
<line x1="51.8" y1="746.4" x2="358.2" y2="746.4" stroke="#000" stroke-width="2.2" stroke-linecap="butt"/>
<line x1="357.6" y1="742.5" x2="357.6" y2="746.4" stroke="#000" stroke-width="1.8" stroke-linecap="butt"/>
<rect x="87.5" y="640.9" width="52.19999999999999" height="104.5" fill="#000" stroke="none" stroke-width="0" />
<rect x="89.9" y="643.3" width="47.39999999999999" height="102.1" fill="#b0b0b0" stroke="none" stroke-width="0" />
<rect x="90.9" y="644.3" width="45.39999999999999" height="101.1" fill="#3c3c3c" stroke="none" stroke-width="0" />
<rect x="179.2" y="634.2" width="51.10000000000002" height="111.19999999999993" fill="#000" stroke="none" stroke-width="0" />
<rect x="181.6" y="636.6" width="46.300000000000026" height="108.79999999999993" fill="#0e0e0e" stroke="none" stroke-width="0" />
<rect x="182.6" y="637.6" width="44.300000000000026" height="107.79999999999993" fill="#0e0e0e" stroke="none" stroke-width="0" />
<rect x="268.3" y="730.2" width="52.80000000000001" height="15.199999999999932" fill="#000" stroke="none" stroke-width="0" />
<rect x="270.5" y="732.4000000000001" width="48.40000000000001" height="12.999999999999932" fill="#fff" stroke="none" stroke-width="0" />
<rect x="271.5" y="733.4000000000001" width="46.40000000000001" height="11.999999999999932" fill="#fff" stroke="none" stroke-width="0" />
<line x1="113.6" y1="617.8" x2="113.6" y2="665.5" stroke="#000" stroke-width="2" stroke-linecap="butt"/>
<line x1="110.19999999999999" y1="617.8" x2="117.0" y2="617.8" stroke="#000" stroke-width="2" stroke-linecap="butt"/>
<line x1="110.19999999999999" y1="665.5" x2="117.0" y2="665.5" stroke="#000" stroke-width="2" stroke-linecap="butt"/>
<line x1="204" y1="594.9" x2="204" y2="673" stroke="#000" stroke-width="2" stroke-linecap="butt"/>
<line x1="200.6" y1="594.9" x2="207.4" y2="594.9" stroke="#000" stroke-width="2" stroke-linecap="butt"/>
<line x1="200.6" y1="673" x2="207.4" y2="673" stroke="#000" stroke-width="2" stroke-linecap="butt"/>
<line x1="294.5" y1="719.8" x2="294.5" y2="742.6" stroke="#000" stroke-width="2" stroke-linecap="butt"/>
<line x1="291.1" y1="719.8" x2="297.9" y2="719.8" stroke="#000" stroke-width="2" stroke-linecap="butt"/>
<line x1="291.1" y1="742.6" x2="297.9" y2="742.6" stroke="#000" stroke-width="2" stroke-linecap="butt"/>
<line x1="310.50" y1="698.10" x2="310.50" y2="710.50" stroke="#000" stroke-width="1.7" stroke-linecap="round"/>
<circle cx="310.50" cy="709.38" r="1.50" fill="#000"/>
<circle cx="310.50" cy="699.22" r="1.50" fill="#000"/>
<line x1="304.75" y1="701.98" x2="316.25" y2="706.62" stroke="#000" stroke-width="1.7" stroke-linecap="round"/>
<circle cx="315.21" cy="706.20" r="1.50" fill="#000"/>
<circle cx="305.79" cy="702.40" r="1.50" fill="#000"/>
<line x1="304.75" y1="706.62" x2="316.25" y2="701.98" stroke="#000" stroke-width="1.7" stroke-linecap="round"/>
<circle cx="315.21" cy="702.40" r="1.50" fill="#000"/>
<circle cx="305.79" cy="706.20" r="1.50" fill="#000"/>
<text x="364.5" y="580.2" font-family='"Liberation Serif", serif' font-weight="bold" font-size="22" text-anchor="start" fill="#000"  stroke="#000" stroke-width="0.5" stroke-linejoin="round">f</text>
<text transform="translate(385.6,674.0) rotate(-90)" x="0" y="0" font-family='"Liberation Sans", sans-serif' font-weight="bold" font-size="16" text-anchor="middle" fill="#000" textLength="22.7" lengthAdjust="spacingAndGlyphs"  stroke="#000" stroke-width="0.6" stroke-linejoin="round">OD</text>
<text transform="translate(385.0,651.3) rotate(-90)" x="0" y="0" font-family='"Liberation Sans", sans-serif' font-weight="bold" font-size="10" text-anchor="middle" fill="#000" textLength="17.8" lengthAdjust="spacingAndGlyphs"  stroke="#000" stroke-width="0.6" stroke-linejoin="round">490</text>
<text x="392.8" y="603.6" font-family='"Liberation Serif", serif' font-weight="bold" font-size="19" text-anchor="start" fill="#000" textLength="9.6" lengthAdjust="spacingAndGlyphs" >3</text>
<text x="394.2" y="651.6" font-family='"Liberation Serif", serif' font-weight="bold" font-size="19" text-anchor="start" fill="#000" textLength="9.4" lengthAdjust="spacingAndGlyphs" >2</text>
<text x="395.0" y="703.4" font-family='"Liberation Serif", serif' font-weight="bold" font-size="19" text-anchor="start" fill="#000" textLength="9.6" lengthAdjust="spacingAndGlyphs" >1</text>
<text x="396.6" y="752.7" font-family='"Liberation Serif", serif' font-weight="bold" font-size="19" text-anchor="start" fill="#000" textLength="10.8" lengthAdjust="spacingAndGlyphs" >0</text>
<line x1="413.6" y1="592.0" x2="413.6" y2="748.5" stroke="#000" stroke-width="2.2" stroke-linecap="butt"/>
<line x1="413" y1="593.0" x2="416.6" y2="593.0" stroke="#000" stroke-width="1.6" stroke-linecap="butt"/>
<line x1="413" y1="644.0" x2="416.6" y2="644.0" stroke="#000" stroke-width="1.6" stroke-linecap="butt"/>
<line x1="413" y1="697.4" x2="416.6" y2="697.4" stroke="#000" stroke-width="1.6" stroke-linecap="butt"/>
<line x1="412.5" y1="747.5" x2="741.5" y2="747.5" stroke="#000" stroke-width="2.2" stroke-linecap="butt"/>
<line x1="468.2" y1="744" x2="468.2" y2="747" stroke="#000" stroke-width="1.5" stroke-linecap="butt"/>
<line x1="522" y1="744" x2="522" y2="747" stroke="#000" stroke-width="1.5" stroke-linecap="butt"/>
<line x1="577.4" y1="744" x2="577.4" y2="747" stroke="#000" stroke-width="1.5" stroke-linecap="butt"/>
<line x1="632.7" y1="744" x2="632.7" y2="747" stroke="#000" stroke-width="1.5" stroke-linecap="butt"/>
<line x1="686.6" y1="744" x2="686.6" y2="747" stroke="#000" stroke-width="1.5" stroke-linecap="butt"/>
<line x1="738.7" y1="744" x2="738.7" y2="747" stroke="#000" stroke-width="1.5" stroke-linecap="butt"/>
<text x="437.1" y="767.4" font-family='"Liberation Serif", serif' font-weight="bold" font-size="19" text-anchor="start" fill="#000" textLength="10.0" lengthAdjust="spacingAndGlyphs" >0</text>
<text x="493.6" y="767.4" font-family='"Liberation Serif", serif' font-weight="bold" font-size="19" text-anchor="start" fill="#000" textLength="10.0" lengthAdjust="spacingAndGlyphs" >1</text>
<text x="552.7" y="767.4" font-family='"Liberation Serif", serif' font-weight="bold" font-size="19" text-anchor="start" fill="#000" textLength="9.8" lengthAdjust="spacingAndGlyphs" >2</text>
<text x="610.6" y="767.4" font-family='"Liberation Serif", serif' font-weight="bold" font-size="19" text-anchor="start" fill="#000" textLength="10.0" lengthAdjust="spacingAndGlyphs" >3</text>
<text x="659.2" y="767.4" font-family='"Liberation Serif", serif' font-weight="bold" font-size="19" text-anchor="start" fill="#000" textLength="10.6" lengthAdjust="spacingAndGlyphs" >4</text>
<text x="707.4" y="767.4" font-family='"Liberation Serif", serif' font-weight="bold" font-size="19" text-anchor="start" fill="#000" textLength="10.0" lengthAdjust="spacingAndGlyphs" >5</text>
<text x="557.6" y="788.6" font-family='"Liberation Serif", serif' font-weight="bold" font-size="18.5" text-anchor="start" fill="#000" textLength="39.2" lengthAdjust="spacingAndGlyphs" >Days</text>
<polyline points="440.0,728.9 494.4,722.5 548.8,712.2 603.2,692.8 658.2,672.5 712.8,658.5" fill="none" stroke="#000" stroke-width="1.6"/>
<polyline points="440.0,728.3 494.4,720.0 548.8,703.0 603.2,675.7 658.2,649.7 712.8,616.7" fill="none" stroke="#000" stroke-width="2"/>
<polyline points="440.0,728.6 494.4,717.8 548.8,699.8 603.2,672.0 658.2,639.7 712.8,607.0" fill="none" stroke="#000" stroke-width="2"/>
<polygon points="440.0,724.3 443.2,728.6 440.0,732.9 436.8,728.6" fill="#000"/>
<polygon points="494.4,713.5 497.6,717.8 494.4,722.1 491.2,717.8" fill="#000"/>
<polygon points="548.8,695.5 552.0,699.8 548.8,704.1 545.6,699.8" fill="#000"/>
<polygon points="603.2,667.7 606.4,672.0 603.2,676.3 600.0,672.0" fill="#000"/>
<polygon points="658.2,635.4 661.4,639.7 658.2,644.0 655.0,639.7" fill="#000"/>
<polygon points="712.8,602.7 716.0,607.0 712.8,611.3 709.6,607.0" fill="#000"/>
<polygon points="440.0,723.6 444.0,732.1 436.0,732.1" fill="#000"/>
<polygon points="494.4,715.3 498.4,723.8 490.4,723.8" fill="#000"/>
<polygon points="548.8,698.3 552.8,706.8 544.8,706.8" fill="#000"/>
<polygon points="603.2,671.0 607.2,679.5 599.2,679.5" fill="#000"/>
<polygon points="658.2,645.0 662.2,653.5 654.2,653.5" fill="#000"/>
<polygon points="712.8,612.0 716.8,620.5 708.8,620.5" fill="#000"/>
<polygon points="440.0,725.0 443.4,732.0 436.6,732.0" fill="#000"/>
<polygon points="494.4,718.6 497.8,725.6 491.0,725.6" fill="#000"/>
<polygon points="548.8,708.4 552.2,715.4 545.4,715.4" fill="#000"/>
<polygon points="603.2,688.9 606.6,695.9 599.8,695.9" fill="#000"/>
<polygon points="658.2,668.6 661.6,675.6 654.8,675.6" fill="#000"/>
<polygon points="712.8,654.6 716.2,661.6 709.4,661.6" fill="#000"/>
<line x1="548.8" y1="696.5" x2="548.8" y2="707.0" stroke="#000" stroke-width="1.6" stroke-linecap="butt"/>
<line x1="546.1999999999999" y1="696.5" x2="551.4" y2="696.5" stroke="#000" stroke-width="1.6" stroke-linecap="butt"/>
<line x1="546.1999999999999" y1="707.0" x2="551.4" y2="707.0" stroke="#000" stroke-width="1.6" stroke-linecap="butt"/>
<line x1="603.2" y1="669.0" x2="603.2" y2="676.0" stroke="#000" stroke-width="1.6" stroke-linecap="butt"/>
<line x1="600.6" y1="669.0" x2="605.8000000000001" y2="669.0" stroke="#000" stroke-width="1.6" stroke-linecap="butt"/>
<line x1="600.6" y1="676.0" x2="605.8000000000001" y2="676.0" stroke="#000" stroke-width="1.6" stroke-linecap="butt"/>
<line x1="658.2" y1="630.6" x2="658.2" y2="650.0" stroke="#000" stroke-width="1.9" stroke-linecap="butt"/>
<line x1="655.4000000000001" y1="630.6" x2="661.0" y2="630.6" stroke="#000" stroke-width="1.9" stroke-linecap="butt"/>
<line x1="655.4000000000001" y1="650.0" x2="661.0" y2="650.0" stroke="#000" stroke-width="1.9" stroke-linecap="butt"/>
<line x1="712.8" y1="593.6" x2="712.8" y2="622.5" stroke="#000" stroke-width="1.9" stroke-linecap="butt"/>
<line x1="710.0" y1="593.6" x2="715.5999999999999" y2="593.6" stroke="#000" stroke-width="1.9" stroke-linecap="butt"/>
<line x1="710.0" y1="622.5" x2="715.5999999999999" y2="622.5" stroke="#000" stroke-width="1.9" stroke-linecap="butt"/>
<line x1="548.8" y1="709.5" x2="548.8" y2="714.6" stroke="#000" stroke-width="1.4" stroke-linecap="butt"/>
<line x1="546.4" y1="709.5" x2="551.1999999999999" y2="709.5" stroke="#000" stroke-width="1.4" stroke-linecap="butt"/>
<line x1="546.4" y1="714.6" x2="551.1999999999999" y2="714.6" stroke="#000" stroke-width="1.4" stroke-linecap="butt"/>
<line x1="603.2" y1="690.0" x2="603.2" y2="695.5" stroke="#000" stroke-width="1.4" stroke-linecap="butt"/>
<line x1="600.8000000000001" y1="690.0" x2="605.6" y2="690.0" stroke="#000" stroke-width="1.4" stroke-linecap="butt"/>
<line x1="600.8000000000001" y1="695.5" x2="605.6" y2="695.5" stroke="#000" stroke-width="1.4" stroke-linecap="butt"/>
<line x1="658.2" y1="665.8" x2="658.2" y2="677.3" stroke="#000" stroke-width="1.9" stroke-linecap="butt"/>
<line x1="655.4000000000001" y1="665.8" x2="661.0" y2="665.8" stroke="#000" stroke-width="1.9" stroke-linecap="butt"/>
<line x1="655.4000000000001" y1="677.3" x2="661.0" y2="677.3" stroke="#000" stroke-width="1.9" stroke-linecap="butt"/>
<line x1="712.8" y1="646.8" x2="712.8" y2="665.8" stroke="#000" stroke-width="1.9" stroke-linecap="butt"/>
<line x1="710.0" y1="646.8" x2="715.5999999999999" y2="646.8" stroke="#000" stroke-width="1.9" stroke-linecap="butt"/>
<line x1="710.0" y1="665.8" x2="715.5999999999999" y2="665.8" stroke="#000" stroke-width="1.9" stroke-linecap="butt"/>
<line x1="563.00" y1="725.60" x2="563.00" y2="735.60" stroke="#000" stroke-width="1.5" stroke-linecap="round"/>
<circle cx="563.00" cy="734.70" r="1.40" fill="#000"/>
<circle cx="563.00" cy="726.50" r="1.40" fill="#000"/>
<line x1="558.36" y1="728.73" x2="567.64" y2="732.47" stroke="#000" stroke-width="1.5" stroke-linecap="round"/>
<circle cx="566.80" cy="732.14" r="1.40" fill="#000"/>
<circle cx="559.20" cy="729.06" r="1.40" fill="#000"/>
<line x1="558.36" y1="732.47" x2="567.64" y2="728.73" stroke="#000" stroke-width="1.5" stroke-linecap="round"/>
<circle cx="566.80" cy="729.06" r="1.40" fill="#000"/>
<circle cx="559.20" cy="732.14" r="1.40" fill="#000"/>
<line x1="623.00" y1="706.00" x2="623.00" y2="716.00" stroke="#000" stroke-width="1.5" stroke-linecap="round"/>
<circle cx="623.00" cy="715.10" r="1.40" fill="#000"/>
<circle cx="623.00" cy="706.90" r="1.40" fill="#000"/>
<line x1="618.36" y1="709.13" x2="627.64" y2="712.87" stroke="#000" stroke-width="1.5" stroke-linecap="round"/>
<circle cx="626.80" cy="712.54" r="1.40" fill="#000"/>
<circle cx="619.20" cy="709.46" r="1.40" fill="#000"/>
<line x1="618.36" y1="712.87" x2="627.64" y2="709.13" stroke="#000" stroke-width="1.5" stroke-linecap="round"/>
<circle cx="626.80" cy="709.46" r="1.40" fill="#000"/>
<circle cx="619.20" cy="712.54" r="1.40" fill="#000"/>
<line x1="669.70" y1="684.80" x2="669.70" y2="694.80" stroke="#000" stroke-width="1.5" stroke-linecap="round"/>
<circle cx="669.70" cy="693.90" r="1.40" fill="#000"/>
<circle cx="669.70" cy="685.70" r="1.40" fill="#000"/>
<line x1="665.06" y1="687.93" x2="674.34" y2="691.67" stroke="#000" stroke-width="1.5" stroke-linecap="round"/>
<circle cx="673.50" cy="691.34" r="1.40" fill="#000"/>
<circle cx="665.90" cy="688.26" r="1.40" fill="#000"/>
<line x1="665.06" y1="691.67" x2="674.34" y2="687.93" stroke="#000" stroke-width="1.5" stroke-linecap="round"/>
<circle cx="673.50" cy="688.26" r="1.40" fill="#000"/>
<circle cx="665.90" cy="691.34" r="1.40" fill="#000"/>
<line x1="731.20" y1="674.30" x2="731.20" y2="684.30" stroke="#000" stroke-width="1.5" stroke-linecap="round"/>
<circle cx="731.20" cy="683.40" r="1.40" fill="#000"/>
<circle cx="731.20" cy="675.20" r="1.40" fill="#000"/>
<line x1="726.56" y1="677.43" x2="735.84" y2="681.17" stroke="#000" stroke-width="1.5" stroke-linecap="round"/>
<circle cx="735.00" cy="680.84" r="1.40" fill="#000"/>
<circle cx="727.40" cy="677.76" r="1.40" fill="#000"/>
<line x1="726.56" y1="681.17" x2="735.84" y2="677.43" stroke="#000" stroke-width="1.5" stroke-linecap="round"/>
<circle cx="735.00" cy="677.76" r="1.40" fill="#000"/>
<circle cx="727.40" cy="680.84" r="1.40" fill="#000"/>
<line x1="438.6" y1="593.9" x2="462.8" y2="593.9" stroke="#000" stroke-width="2.2" stroke-linecap="butt"/>
<polygon points="451.0,590.2 453.9,594.3 451.0,598.4 448.1,594.3" fill="#000"/>
<line x1="438.6" y1="612.5" x2="462.8" y2="612.5" stroke="#000" stroke-width="2.2" stroke-linecap="butt"/>
<polygon points="451.2,607.4 455.2,616.9 446.6,616.9" fill="#000"/>
<line x1="438.6" y1="631.0" x2="462.8" y2="631.0" stroke="#000" stroke-width="2.0" stroke-linecap="butt"/>
<polygon points="451.3,626.0 454.6,634.4 447.2,634.4" fill="#000"/>
<text x="467.2" y="599.1" font-family='"Liberation Serif", serif' font-weight="bold" font-size="17.5" text-anchor="start" fill="#000" textLength="72.8" lengthAdjust="spacingAndGlyphs"  stroke="#000" stroke-width="0.15" stroke-linejoin="round">SGC7901</text>
<text x="468.7" y="615.7" font-family='"Liberation Serif", serif' font-weight="bold" font-size="17.5" text-anchor="start" fill="#000" textLength="164.3" lengthAdjust="spacingAndGlyphs"  stroke="#000" stroke-width="0.15" stroke-linejoin="round">SGC7901/pcDNA3.1</text>
<text x="468.7" y="634.5" font-family='"Liberation Serif", serif' font-weight="bold" font-size="17.5" text-anchor="start" fill="#000" textLength="130.3" lengthAdjust="spacingAndGlyphs"  stroke="#000" stroke-width="0.15" stroke-linejoin="round">SGC7901/FRZB</text>
</g></svg></body></html>
